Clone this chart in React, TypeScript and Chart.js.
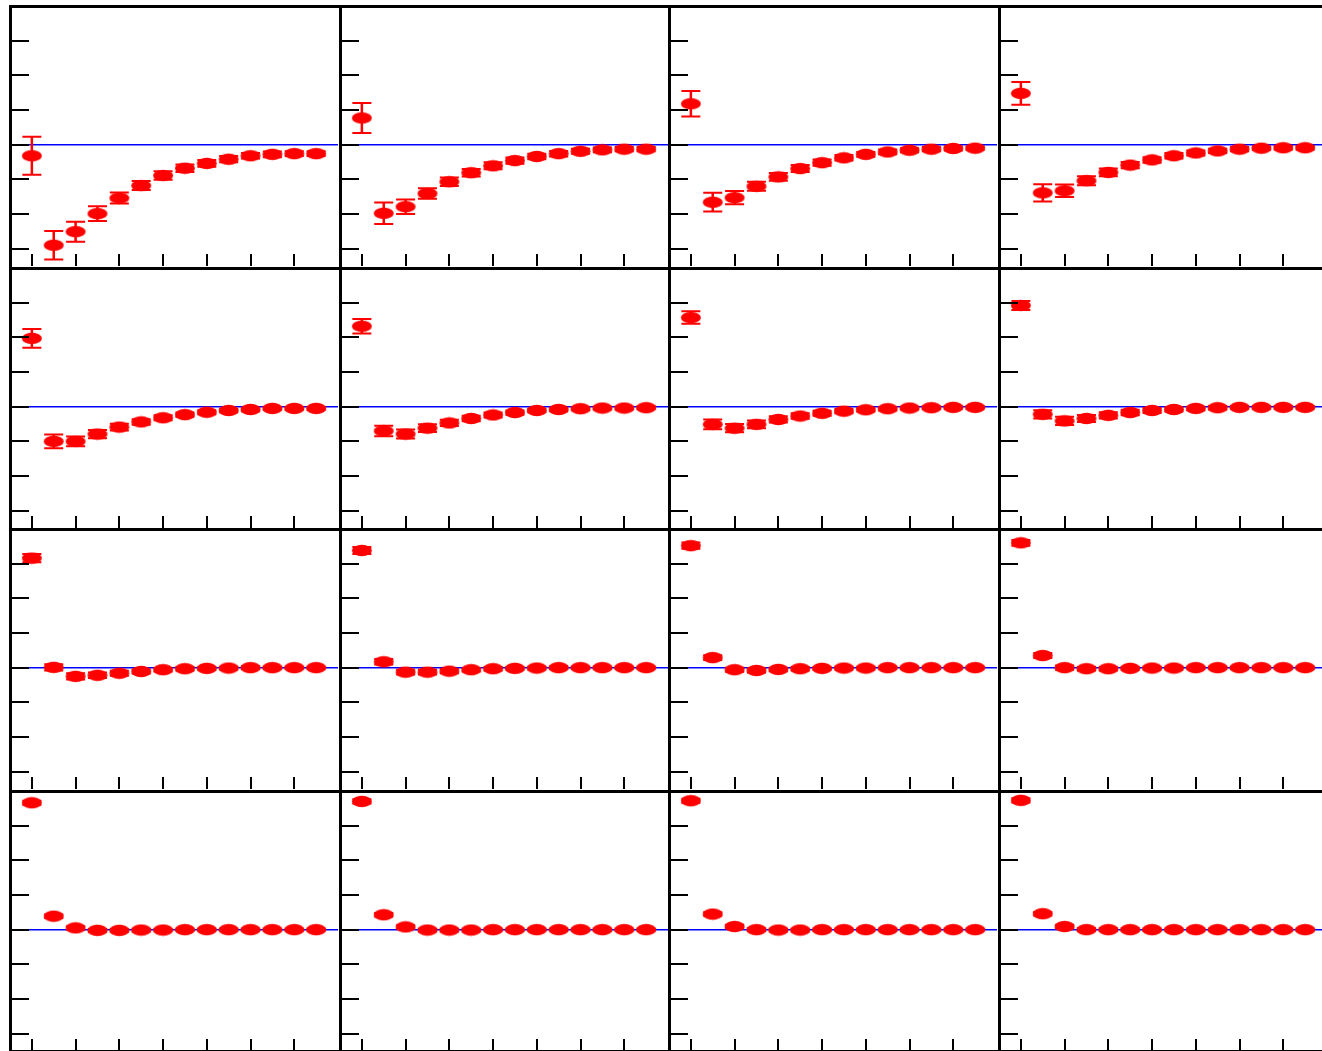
import React, { useEffect, useRef } from "react";
import { Chart, registerables } from "chart.js";

Chart.register(...registerables);

// ---------------- data ----------------
const X_POS = [0, 1, 2, 3, 4, 5, 6, 7, 8, 9, 10, 11, 12, 13];
const X_TICKS = [0, 2, 4, 6, 8, 10, 12];
const Y_TICKS = [0.7, 0.8, 0.9, 1.0, 1.1, 1.2, 1.3];
const REF_VALUE = 1.0;
const X_RANGE = [-1, 14];
const Y_RANGE = [0.65, 1.4];

const V1 = [0.968, 0.710, 0.749, 0.801, 0.846, 0.882, 0.911, 0.932, 0.946, 0.958, 0.968, 0.972, 0.974, 0.974];
const E1 = [0.055, 0.041, 0.029, 0.021, 0.016, 0.013, 0.012, 0.011, 0.010, 0.009, 0.008, 0.008, 0.007, 0.007];
const V2 = [1.077, 0.802, 0.821, 0.859, 0.893, 0.919, 0.939, 0.954, 0.966, 0.974, 0.981, 0.985, 0.987, 0.987];
const E2 = [0.043, 0.031, 0.021, 0.015, 0.012, 0.011, 0.010, 0.009, 0.008, 0.008, 0.007, 0.007, 0.006, 0.006];
const V3 = [1.118, 0.834, 0.847, 0.880, 0.907, 0.931, 0.948, 0.962, 0.972, 0.979, 0.984, 0.987, 0.989, 0.990];
const E3 = [0.037, 0.027, 0.019, 0.013, 0.011, 0.010, 0.009, 0.008, 0.007, 0.007, 0.006, 0.006, 0.006, 0.005];
const V4 = [1.148, 0.861, 0.867, 0.896, 0.920, 0.941, 0.956, 0.968, 0.976, 0.982, 0.987, 0.990, 0.991, 0.991];
const E4 = [0.033, 0.025, 0.018, 0.013, 0.011, 0.009, 0.008, 0.008, 0.007, 0.006, 0.006, 0.005, 0.005, 0.005];

const V5 = [1.197, 0.900, 0.900, 0.921, 0.941, 0.956, 0.968, 0.977, 0.984, 0.989, 0.992, 0.995, 0.995, 0.995];
const E5 = [0.027, 0.020, 0.014, 0.012, 0.010, 0.008, 0.007, 0.006, 0.006, 0.005, 0.005, 0.004, 0.004, 0.004];
const V6 = [1.232, 0.930, 0.921, 0.938, 0.953, 0.966, 0.976, 0.983, 0.989, 0.992, 0.994, 0.996, 0.996, 0.997];
const E6 = [0.021, 0.015, 0.013, 0.011, 0.009, 0.008, 0.007, 0.006, 0.005, 0.005, 0.004, 0.004, 0.004, 0.004];
const V7 = [1.257, 0.949, 0.938, 0.949, 0.963, 0.973, 0.981, 0.987, 0.991, 0.994, 0.996, 0.997, 0.998, 0.998];
const E7 = [0.018, 0.014, 0.012, 0.011, 0.009, 0.008, 0.007, 0.006, 0.005, 0.005, 0.004, 0.004, 0.004, 0.004];
const V8 = [1.292, 0.978, 0.959, 0.966, 0.975, 0.983, 0.989, 0.992, 0.995, 0.997, 0.998, 0.998, 0.998, 0.998];
const E8 = [0.013, 0.012, 0.012, 0.010, 0.009, 0.008, 0.007, 0.006, 0.005, 0.005, 0.004, 0.004, 0.004, 0.004];

const V9 = [1.316, 1.001, 0.975, 0.978, 0.984, 0.989, 0.994, 0.997, 0.998, 0.999, 1.000, 1.000, 1.000, 1.000];
const E9 = [0.012, 0.009, 0.009, 0.008, 0.007, 0.006, 0.005, 0.005, 0.004, 0.004, 0.004, 0.003, 0.003, 0.003];
const V10 = [1.338, 1.017, 0.987, 0.987, 0.990, 0.994, 0.997, 0.998, 0.999, 1.000, 1.000, 1.000, 1.000, 1.000];
const E10 = [0.010, 0.008, 0.007, 0.007, 0.006, 0.005, 0.005, 0.004, 0.004, 0.004, 0.003, 0.003, 0.003, 0.003];
const V11 = [1.352, 1.029, 0.994, 0.992, 0.995, 0.997, 0.998, 0.999, 0.999, 1.000, 1.000, 1.000, 1.000, 1.000];
const E11 = [0.009, 0.007, 0.006, 0.006, 0.005, 0.005, 0.004, 0.004, 0.004, 0.003, 0.003, 0.003, 0.003, 0.003];
const V12 = [1.360, 1.035, 1.000, 0.997, 0.997, 0.998, 0.999, 0.999, 1.000, 1.000, 1.000, 1.000, 1.000, 1.000];
const E12 = [0.008, 0.007, 0.006, 0.005, 0.005, 0.004, 0.004, 0.004, 0.003, 0.003, 0.003, 0.003, 0.003, 0.003];

const V13 = [1.366, 1.039, 1.005, 0.998, 0.998, 0.999, 0.999, 1.000, 1.000, 1.000, 1.000, 1.000, 1.000, 1.000];
const E13 = [0.006, 0.005, 0.005, 0.004, 0.004, 0.004, 0.003, 0.003, 0.003, 0.003, 0.003, 0.003, 0.003, 0.003];
const V14 = [1.370, 1.043, 1.008, 0.999, 0.999, 0.999, 1.000, 1.000, 1.000, 1.000, 1.000, 1.000, 1.000, 1.000];
const E14 = [0.006, 0.005, 0.005, 0.004, 0.004, 0.004, 0.003, 0.003, 0.003, 0.003, 0.003, 0.003, 0.003, 0.003];
const V15 = [1.372, 1.045, 1.009, 1.000, 0.999, 0.999, 1.000, 1.000, 1.000, 1.000, 1.000, 1.000, 1.000, 1.000];
const E15 = [0.006, 0.005, 0.005, 0.004, 0.004, 0.004, 0.003, 0.003, 0.003, 0.003, 0.003, 0.003, 0.003, 0.003];
const V16 = [1.373, 1.046, 1.009, 1.000, 1.000, 1.000, 1.000, 1.000, 1.000, 1.000, 1.000, 1.000, 1.000, 1.000];
const E16 = [0.006, 0.005, 0.005, 0.004, 0.004, 0.004, 0.003, 0.003, 0.003, 0.003, 0.003, 0.003, 0.003, 0.003];

const PANEL_VALUES = [V1, V2, V3, V4, V5, V6, V7, V8, V9, V10, V11, V12, V13, V14, V15, V16];
const PANEL_ERRORS = [E1, E2, E3, E4, E5, E6, E7, E8, E9, E10, E11, E12, E13, E14, E15, E16];

// ---------------- layout / style ----------------
const COL_LEFT = [9, 339, 668, 998];
const ROW_TOP = [5, 267, 528, 790];
const PW = 330;
const PH = 262;
const PAD = 6;
const RED = "#ff0000";
const BLUE = "#0000ff";

let markerCache: HTMLCanvasElement | null = null;
function getMarker(): HTMLCanvasElement {
  if (markerCache) return markerCache;
  const c = document.createElement("canvas");
  c.width = 22;
  c.height = 13;
  const ctx = c.getContext("2d")!;
  ctx.fillStyle = RED;
  ctx.beginPath();
  ctx.ellipse(11, 6.5, 10, 5.7, 0, 0, Math.PI * 2);
  ctx.fill();
  markerCache = c;
  return c;
}

const panelPlugin = {
  id: "panelDecor",
  afterDatasetsDraw(chart: any, _args: any, opts: any) {
    const ctx = chart.ctx;
    const ys = chart.scales.y;
    const meta = chart.getDatasetMeta(0);
    const errs: number[] = opts.errors || [];
    const vals: number[] = opts.values || [];
    ctx.save();
    ctx.strokeStyle = RED;
    meta.data.forEach((pt: any, i: number) => {
      const e = errs[i] || 0;
      const yTop = ys.getPixelForValue(vals[i] + e);
      const yBot = ys.getPixelForValue(vals[i] - e);
      ctx.lineWidth = 2.5;
      ctx.beginPath();
      ctx.moveTo(pt.x, yTop);
      ctx.lineTo(pt.x, yBot);
      ctx.stroke();
      ctx.lineWidth = 2;
      ctx.beginPath();
      ctx.moveTo(pt.x - 9.5, yTop);
      ctx.lineTo(pt.x + 9.5, yTop);
      ctx.moveTo(pt.x - 9.5, yBot);
      ctx.lineTo(pt.x + 9.5, yBot);
      ctx.stroke();
    });
    ctx.restore();
  },
  afterDraw(chart: any, _args: any, opts: any) {
    const ctx = chart.ctx;
    const { left, top, right, bottom } = chart.chartArea;
    const xs = chart.scales.x;
    const ys = chart.scales.y;
    ctx.save();
    ctx.strokeStyle = "#000";
    // ticks
    ctx.lineWidth = 2;
    ctx.beginPath();
    X_TICKS.forEach((v) => {
      const px = Math.round(xs.getPixelForValue(v));
      ctx.moveTo(px, bottom);
      ctx.lineTo(px, bottom - 12);
    });
    Y_TICKS.forEach((v) => {
      const py = Math.round(ys.getPixelForValue(v));
      ctx.moveTo(left, py);
      ctx.lineTo(left + 19, py);
    });
    ctx.stroke();
    // frame
    ctx.lineWidth = 3;
    ctx.beginPath();
    ctx.moveTo(left + 0.5, bottom + 2);
    ctx.lineTo(left + 0.5, top + 0.5);
    ctx.lineTo(right + 2, top + 0.5);
    if (opts.lastCol) {
      ctx.moveTo(right + 0.5, top);
      ctx.lineTo(right + 0.5, bottom + 2);
    }
    if (opts.lastRow) {
      ctx.moveTo(left, bottom + 0.5);
      ctx.lineTo(right + 2, bottom + 0.5);
    }
    ctx.stroke();
    ctx.restore();
  },
};

function Panel({ index }: { index: number }) {
  const ref = useRef<HTMLCanvasElement>(null);
  const col = index % 4;
  const row = Math.floor(index / 4);
  useEffect(() => {
    if (!ref.current) return;
    const values = PANEL_VALUES[index];
    const errors = PANEL_ERRORS[index];
    const chart = new Chart(ref.current, {
      type: "scatter",
      data: {
        datasets: [
          {
            data: X_POS.map((x, i) => ({ x, y: values[i] })),
            pointStyle: getMarker() as any,
            pointRadius: 6,
            backgroundColor: RED,
            borderColor: RED,
            order: 0,
          },
          {
            data: [
              { x: X_RANGE[0], y: REF_VALUE },
              { x: X_RANGE[1], y: REF_VALUE },
            ],
            showLine: true,
            borderColor: BLUE,
            borderWidth: 1.5,
            pointRadius: 0,
            order: 1,
          } as any,
        ],
      },
      options: {
        animation: false,
        responsive: false,
        devicePixelRatio: 1,
        events: [],
        layout: { padding: PAD },
        scales: {
          x: { type: "linear", min: X_RANGE[0], max: X_RANGE[1], display: false },
          y: { type: "linear", min: Y_RANGE[0], max: Y_RANGE[1], display: false },
        },
        plugins: {
          legend: { display: false },
          tooltip: { enabled: false },
          panelDecor: { values, errors, lastCol: col === 3, lastRow: row === 3 },
        } as any,
      },
      plugins: [panelPlugin],
    });
    return () => chart.destroy();
  }, [index]);
  return (
    <canvas
      ref={ref}
      width={PW + 2 * PAD}
      height={PH + 2 * PAD}
      style={{
        position: "absolute",
        left: COL_LEFT[col] - PAD,
        top: ROW_TOP[row] - PAD,
        width: PW + 2 * PAD,
        height: PH + 2 * PAD,
      }}
    />
  );
}

export default function App() {
  return (
    <div
      style={{
        position: "fixed",
        left: 0,
        top: 0,
        width: 1322,
        height: 1051,
        overflow: "hidden",
        background: "#fff",
      }}
    >
      {PANEL_VALUES.map((_, i) => (
        <Panel key={i} index={i} />
      ))}
    </div>
  );
}
